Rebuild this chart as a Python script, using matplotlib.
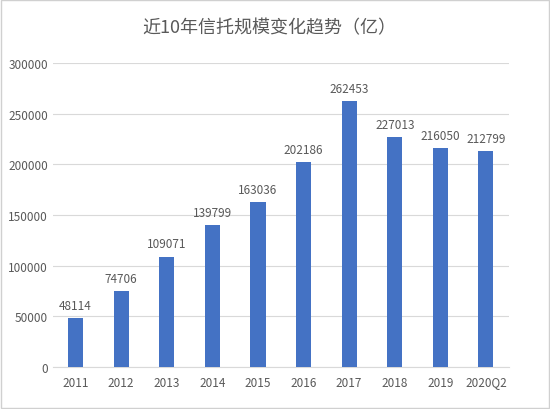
import matplotlib
matplotlib.use('Agg')
import matplotlib.pyplot as plt
import numpy as np

plt.rcParams['font.family'] = ['Noto Sans CJK SC', 'DejaVu Sans']

years = ['2011', '2012', '2013', '2014', '2015', '2016', '2017', '2018', '2019', '2020Q2']
scale = [48114, 74706, 109071, 139799, 163036, 202186, 262453, 227013, 216050, 212799]

fig = plt.figure(figsize=(5.5, 4.1), dpi=100)
ax = fig.add_axes([0.096, 0.102, 0.829, 0.742])

x = np.arange(len(years))
bars = ax.bar(x, scale, width=0.33, color='#4472C4', zorder=3)
for xi, v in zip(x, scale):
    ax.text(xi, v + 6000, str(v), ha='center', va='bottom', fontsize=8.5, color='#595959')

ax.set_xlim(-0.5, len(years) - 0.5)
ax.set_ylim(0, 300000)
ax.set_yticks(np.arange(0, 300001, 50000))
ax.set_xticks(x)
ax.set_xticklabels(years)
ax.tick_params(axis='both', length=0, labelsize=8.5, colors='#595959')
ax.tick_params(axis='x', pad=6)
ax.grid(axis='y', color='#d9d9d9', linewidth=0.8, zorder=0)
for s in ['top', 'right', 'left']:
    ax.spines[s].set_visible(False)
ax.spines['bottom'].set_color('#d9d9d9')

fig.text(0.49, 0.93, '近10年信托规模变化趋势（亿）', ha='center', va='center',
         fontsize=13, color='#595959')

fig.patches.append(plt.Rectangle((0.002, 0.002), 0.996, 0.996, transform=fig.transFigure,
                                 fill=False, edgecolor='#d0d0d0', linewidth=1))

fig.savefig('out.png', dpi=100)
